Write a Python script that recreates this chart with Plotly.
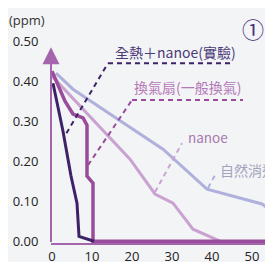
import plotly.graph_objects as go

# ---- data ----
t_natural = [1, 5.25, 14.5, 27.75, 38.75, 52.5, 55.5]
v_natural = [0.42, 0.38, 0.318, 0.23, 0.13, 0.093, 0.072]

t_nanoe = [0, 19.5, 25.75, 30.25, 35.25, 42]
v_nanoe = [0.413, 0.205, 0.118, 0.095, 0.03, 0.0]

t_fan = [0, 3.25, 5.25, 7.75, 8.75, 8.75, 10.25, 10.25, 56]
v_fan = [0.425, 0.35, 0.318, 0.308, 0.29, 0.163, 0.145, 0.0, 0.0]

t_heat = [0.25, 2.75, 4.75, 6.25, 6.75, 10.5]
v_heat = [0.395, 0.275, 0.163, 0.095, 0.012, 0.0]

x_ticks = [0, 10, 20, 30, 40, 50]
y_ticks = [0.0, 0.1, 0.2, 0.3, 0.4, 0.5]
y_ticktext = ["0.00", "0.10", "0.20", "0.30", "0.40", "0.50"]

lbl_heat = "全熱＋nanoe(實驗)"
lbl_fan = "換氣扇(一般換氣)"
lbl_nanoe = "nanoe"
lbl_natural = "自然消退"

C_NAT = "#b0b0dc"
C_NANOE = "#c9a2d1"
C_FAN = "#9a4c9c"
C_HEAT = "#3e2268"
C_AXIS = "#a565ad"

CJK = "Noto Sans CJK TC, Open Sans, sans-serif"

fig = go.Figure()
fig.add_trace(go.Scatter(x=t_natural, y=v_natural, mode="lines",
                         line=dict(color=C_NAT, width=3)))
fig.add_trace(go.Scatter(x=t_nanoe, y=v_nanoe, mode="lines",
                         line=dict(color=C_NANOE, width=3)))
fig.add_trace(go.Scatter(x=t_fan, y=v_fan, mode="lines",
                         line=dict(color=C_FAN, width=3.5)))
fig.add_trace(go.Scatter(x=t_heat, y=v_heat, mode="lines",
                         line=dict(color=C_HEAT, width=3)))

# leader lines (dashed)
def leader(pts, color):
    for (x0, y0), (x1, y1) in zip(pts[:-1], pts[1:]):
        fig.add_shape(type="line", xref="x", yref="y", x0=x0, y0=y0, x1=x1, y1=y1,
                      line=dict(color=color, width=2, dash="5px,4px"))

leader([(3.6, 0.27), (14, 0.445), (44.5, 0.445)], C_HEAT)
leader([(9.0, 0.19), (20, 0.353), (47.75, 0.353)], C_FAN)
leader([(25.75, 0.123), (32.5, 0.245)], C_NANOE)
leader([(39.0, 0.133), (40.75, 0.165)], C_NAT)

ann = [
    dict(x=15.25, y=0.472, text=lbl_heat, font=dict(color="#4b3a78", size=14, family=CJK)),
    dict(x=20.0, y=0.385, text=lbl_fan, font=dict(color="#b477b7", size=14, family=CJK)),
    dict(x=33.6, y=0.26, text=lbl_nanoe, font=dict(color="#a779af", size=13.5, family=CJK)),
    dict(x=41.6, y=0.177, text=lbl_natural, font=dict(color="#a3a3bd", size=14, family=CJK)),
]
for a in ann:
    fig.add_annotation(xref="x", yref="y", xanchor="left", yanchor="middle",
                       showarrow=False, **a)

# y axis arrow
fig.add_annotation(xref="x", yref="y", axref="x", ayref="y",
                   x=-0.25, y=0.485, ax=-0.25, ay=-0.006,
                   showarrow=True, arrowhead=2, arrowsize=1.7, arrowwidth=2,
                   arrowcolor=C_AXIS, text="")

fig.add_annotation(xref="paper", yref="paper", x=-0.108, y=1.098, text="(ppm)",
                   xanchor="center", yanchor="middle",
                   showarrow=False, font=dict(color="#333333", size=13, family="Open Sans"))
fig.add_annotation(xref="paper", yref="paper", x=0.91, y=1.06, text="①",
                   xanchor="center", yanchor="middle",
                   showarrow=False, font=dict(color="#4b2d7c", size=22, family=CJK))

# page body has an 8px margin, so the figure is offset by 8px; compensate
fig.update_layout(
    width=273, height=262,
    margin=dict(l=43, r=8, t=32, b=27, autoexpand=False),
    paper_bgcolor="#f3f4f6", plot_bgcolor="#f3f4f6",
    showlegend=False,
    xaxis=dict(range=[-0.25, 55.25], tickvals=x_ticks, showgrid=False, zeroline=False,
               showline=True, linecolor=C_AXIS, linewidth=2, automargin=False,
               ticks="", ticklabelstandoff=0,
               tickfont=dict(color="#222222", size=13, family="Open Sans")),
    yaxis=dict(range=[-0.0045, 0.5030], tickvals=y_ticks, ticktext=y_ticktext,
               showgrid=False, zeroline=False, showline=False, automargin=False,
               ticks="outside", ticklen=9, tickcolor="rgba(0,0,0,0)",
               tickfont=dict(color="#222222", size=13, family="Open Sans")),
)

fig.write_html("out.html")
